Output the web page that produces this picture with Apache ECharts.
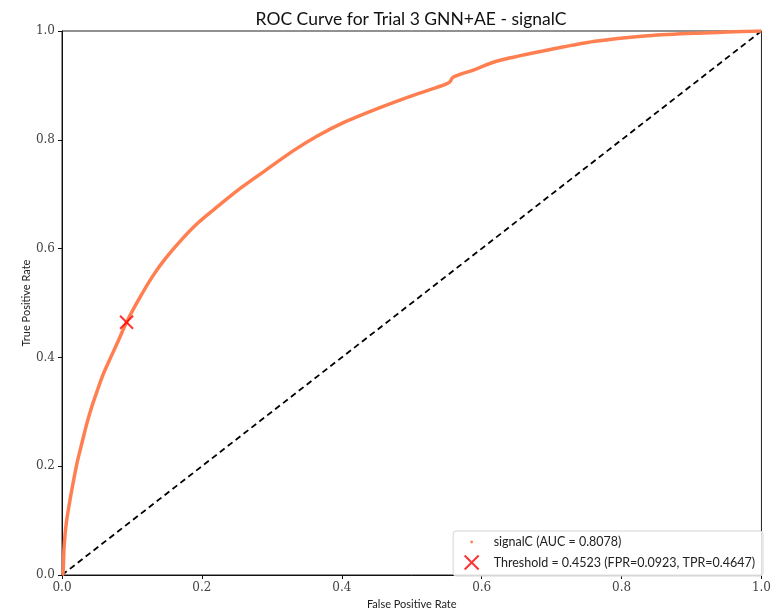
<!DOCTYPE html>
<html>
<head>
<meta charset="utf-8">
<script src="https://cdn.jsdelivr.net/npm/echarts@6/dist/echarts.min.js"></script>
<style>
  html, body { margin: 0; padding: 0; background: #fff; }
  #chart { width: 774px; height: 615px; }
</style>
</head>
<body>
<div id="chart"></div>
<script>
// ROC curve points (false positive rate, true positive rate)
const fpr = [0, 0.0014, 0.003, 0.006, 0.012, 0.021, 0.028, 0.035, 0.042, 0.051, 0.058, 0.070, 0.081, 0.0923, 0.110, 0.129, 0.148, 0.172, 0.195, 0.224, 0.252, 0.290, 0.332, 0.365, 0.403, 0.450, 0.498, 0.535, 0.554, 0.559, 0.592, 0.620, 0.691, 0.762, 0.833, 0.904, 0.951, 1.0];
const tpr = [0, 0.002, 0.051, 0.094, 0.142, 0.203, 0.240, 0.276, 0.307, 0.341, 0.366, 0.401, 0.432, 0.4647, 0.507, 0.548, 0.582, 0.618, 0.648, 0.679, 0.708, 0.743, 0.781, 0.807, 0.832, 0.857, 0.880, 0.896, 0.906, 0.915, 0.930, 0.944, 0.964, 0.981, 0.991, 0.996, 0.998, 1.0];

// Chance diagonal
const diagX = [0, 1];
const diagY = [0, 1];

// Operating point chosen by the threshold
const threshold = 0.4523;
const thrFpr = 0.0923;
const thrTpr = 0.4647;
const auc = 0.8078;

const curveName = 'signalC (AUC = ' + auc.toFixed(4) + ')';
const thrName = 'Threshold = ' + threshold.toFixed(4) + ' (FPR=' + thrFpr.toFixed(4) + ', TPR=' + thrTpr.toFixed(4) + ')';

const crossPath = 'path://M0,0 L10,10 M10,0 L0,10';
const dotPath = 'path://M0,0 M20,20 M10,8 A2,2 0 1 1 10,12 A2,2 0 1 1 10,8 Z';

const sans = 'Lato, "DejaVu Sans", sans-serif';
const serif = '"DejaVu Serif", "Liberation Serif", serif';

const chart = echarts.init(document.getElementById('chart'), null, { renderer: 'canvas' });

chart.setOption({
  animation: false,
  backgroundColor: '#ffffff',
  title: {
    text: 'ROC Curve for Trial 3 GNN+AE - signalC',
    left: 406, top: 5, textAlign: 'center',
    textStyle: { fontFamily: sans, fontSize: 17.5, fontWeight: 'normal', color: '#111' }
  },
  grid: { left: 62, right: 6, top: 31, bottom: 37, show: true, borderColor: '#222', borderWidth: 1 },
  xAxis: {
    type: 'value', min: 0, max: 1, interval: 0.2,
    name: 'False Positive Rate', nameLocation: 'middle', nameGap: 24,
    nameTextStyle: { fontFamily: sans, fontSize: 11, color: '#222' },
    axisLine: { show: true, lineStyle: { color: '#111', width: 1 } },
    axisTick: { show: true, inside: false, length: 4, lineStyle: { color: '#111' } },
    axisLabel: { fontFamily: serif, fontSize: 12, color: '#444', margin: 7, formatter: v => v.toFixed(1) },
    splitLine: { show: false }
  },
  yAxis: {
    type: 'value', min: 0, max: 1, interval: 0.2,
    name: 'True Positive Rate', nameLocation: 'middle', nameGap: 30, nameMoveOverlap: false,
    nameTextStyle: { fontFamily: sans, fontSize: 11, color: '#222' },
    axisLine: { show: true, lineStyle: { color: '#111', width: 1 } },
    axisTick: { show: true, inside: false, length: 4, lineStyle: { color: '#111' } },
    axisLabel: { fontFamily: serif, fontSize: 12, color: '#444', margin: 7, formatter: v => v.toFixed(1) },
    splitLine: { show: false }
  },
  legend: {
    orient: 'vertical', right: 11, bottom: 39,
    backgroundColor: 'rgba(255,255,255,0.85)',
    borderColor: '#d4d4d4', borderWidth: 1, borderRadius: 3,
    padding: [4, 8, 4, 9], itemGap: 4, itemWidth: 18, itemHeight: 14,
    textStyle: { fontFamily: sans, fontSize: 12.5, color: '#222', padding: [0, 0, 0, 8] },
    data: [
      { name: curveName, icon: dotPath, itemStyle: { color: '#FF7F50', borderWidth: 0 } },
      { name: thrName, icon: crossPath, itemStyle: { color: 'none', borderColor: '#ff0000', borderWidth: 2 } }
    ]
  },
  series: [
    {
      name: 'diag', type: 'line', silent: true,
      data: diagX.map((x, i) => [x, diagY[i]]),
      symbol: 'none',
      lineStyle: { color: '#000', width: 1.8, type: [6, 4] },
      z: 2
    },
    {
      name: curveName, type: 'line',
      data: fpr.map((x, i) => [x, tpr[i]]),
      symbol: 'none', smooth: 0.3,
      itemStyle: { color: '#FF7F50' },
      lineStyle: { color: '#FF7F50', width: 3.5 },
      z: 3
    },
    {
      name: thrName, type: 'scatter',
      data: [[thrFpr, thrTpr]],
      symbol: crossPath, symbolSize: 13,
      itemStyle: { color: 'none', borderColor: '#ff0000', borderWidth: 2 },
      z: 5
    }
  ]
});
</script>
</body>
</html>
